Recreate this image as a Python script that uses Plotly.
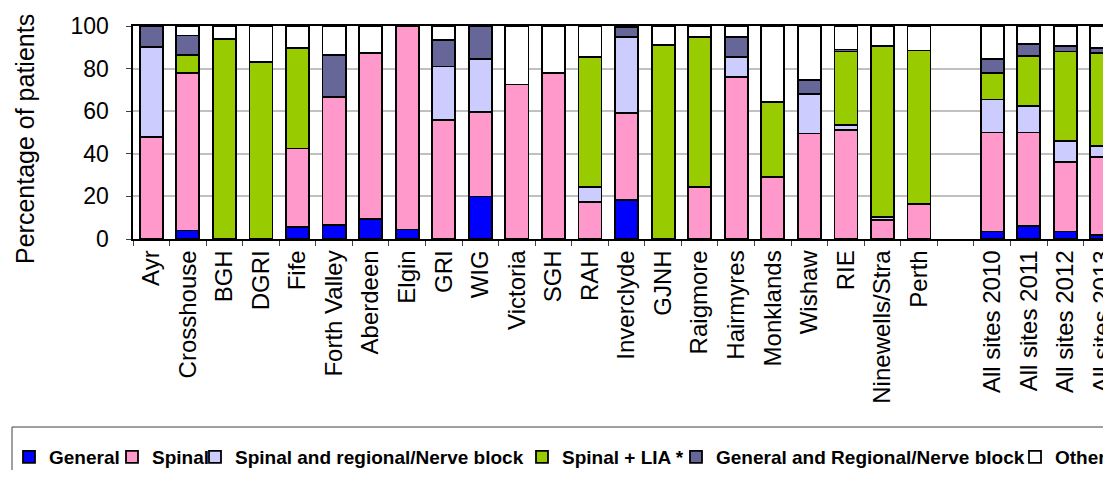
import plotly.graph_objects as go

sites = ["Ayr", "Crosshouse", "BGH", "DGRI", "Fife", "Forth Valley", "Aberdeen",
         "Elgin", "GRI", "WIG", "Victoria", "SGH", "RAH", "Inverclyde", "GJNH",
         "Raigmore", "Hairmyres", "Monklands", "Wishaw", "RIE", "Ninewells/Stra",
         "Perth", " ", "All sites 2010", "All sites 2011", "All sites 2012",
         "All sites 2013"]

general = [0, 4, 0, 0, 5.5, 6.5, 9.5, 4.5, 0, 20, 0, 0, 0, 18.5, 0, 0, 0, 0, 0, 0,
           0, 0, None, 3.5, 6, 3.5, 2]
spinal = [48, 74, 0, 0, 37, 60, 78, 95.5, 56, 39.5, 72.5, 78, 17.5, 40.5, 0, 24.5,
          76, 29, 49.5, 51, 9, 16.5, None, 46.5, 44, 32.5, 36.5]
spinal_regional = [42, 0, 0, 0, 0, 0, 0, 0, 25, 25, 0, 0, 7, 36, 0, 0, 9.5, 0, 18.5,
                   2.5, 1.5, 0, None, 15.5, 12.5, 10, 5]
spinal_lia = [0, 8.5, 94, 83, 47, 0, 0, 0, 0, 0, 0, 0, 61, 0, 91, 70.5, 0, 35.5, 0,
              34.5, 80, 72, None, 12.5, 23.5, 42, 44]
general_regional = [10, 9, 0, 0, 0, 20, 0, 0, 12.5, 15.5, 0, 0, 0, 4.5, 0, 0, 9.5, 0,
                    6.5, 1, 0, 0, None, 6.5, 5.5, 2.5, 2]
other = [0, 4.5, 6, 17, 10.5, 13.5, 12.5, 0, 6.5, 0, 27.5, 22, 14.5, 0.5, 9, 5, 5,
         35.5, 25.5, 11, 9.5, 11.5, None, 15.5, 8.5, 9.5, 10.5]

series_names = ["General", "Spinal", "Spinal and regional/Nerve block",
                "Spinal + LIA *", "General and Regional/Nerve block", "Other"]
series_values = [general, spinal, spinal_regional, spinal_lia, general_regional, other]
series_colors = ["#0000FF", "#FF99CC", "#CCCCFF", "#99CC00", "#666699", "#FFFFFF"]

# where each legend label starts, in window pixels
legend_text_px = [53, 156, 239, 566, 720, 1059]

# the page body has an 8px margin, so the figure sits 8px in from the corner
OFF = 8
W, H = 1111 - OFF, 462
L, T = 133 - OFF, 26 - OFF
B = H - (239 - OFF)
plot_w = W - L
plot_h = H - T - B


def px_to_paper_x(px):
    return (px - OFF - L) / plot_w


def px_to_paper_y(py):
    return (H - B - (py - OFF)) / plot_h


fig = go.Figure()
legend_ids = ["legend"] + [f"legend{i}" for i in range(2, 7)]
for name, vals, col, lid in zip(series_names, series_values, series_colors, legend_ids):
    fig.add_trace(go.Bar(
        x=sites, y=vals, name=name, legend=lid, showlegend=True,
        marker=dict(color=col, line=dict(color="black", width=1.8)),
    ))

legend_layout = {}
for lid, tx in zip(legend_ids, legend_text_px):
    legend_layout[lid] = dict(
        x=px_to_paper_x(tx - 44), xanchor="left",
        y=px_to_paper_y(457), yanchor="middle",
        bgcolor="rgba(0,0,0,0)", borderwidth=0, visible=True,
        font=dict(family="Arial, Liberation Sans", size=19, color="black", weight="bold"),
    )

fig.update_layout(
    width=W, height=H,
    margin=dict(l=L, r=0, t=T, b=B, autoexpand=False),
    paper_bgcolor="white", plot_bgcolor="white",
    barmode="stack", bargap=0.37, showlegend=True,
    font=dict(family="Arial, Liberation Sans", color="black"),
    **legend_layout,
)

fig.update_xaxes(
    type="category", range=[-0.5, 26.25],
    showline=True, linecolor="black", linewidth=1.5, mirror=True,
    ticks="outside", tickson="boundaries", ticklen=5, tickcolor="#404040",
    tickangle=-90, tickfont=dict(size=24),
    showgrid=False,
)
fig.update_yaxes(
    range=[0, 100], dtick=20,
    showline=True, linecolor="black", linewidth=1.5,
    ticks="outside", ticklen=5, tickcolor="#404040",
    tickfont=dict(size=23), ticksuffix="\u00a0\u00a0",
    showgrid=True, gridcolor="#c0c0c0", gridwidth=1.5,
    zeroline=False,
)

fig.add_annotation(
    text="Percentage of patients", textangle=-90, showarrow=False,
    xref="paper", yref="paper", x=px_to_paper_x(25), y=px_to_paper_y(139),
    xanchor="center", yanchor="middle", font=dict(size=25),
)

# legend frame
fig.add_shape(type="rect", xref="paper", yref="paper",
              x0=px_to_paper_x(12), x1=px_to_paper_x(1130),
              y0=px_to_paper_y(427), y1=px_to_paper_y(500),
              line=dict(color="#404040", width=1), fillcolor="rgba(0,0,0,0)")

fig.write_html("out.html")
